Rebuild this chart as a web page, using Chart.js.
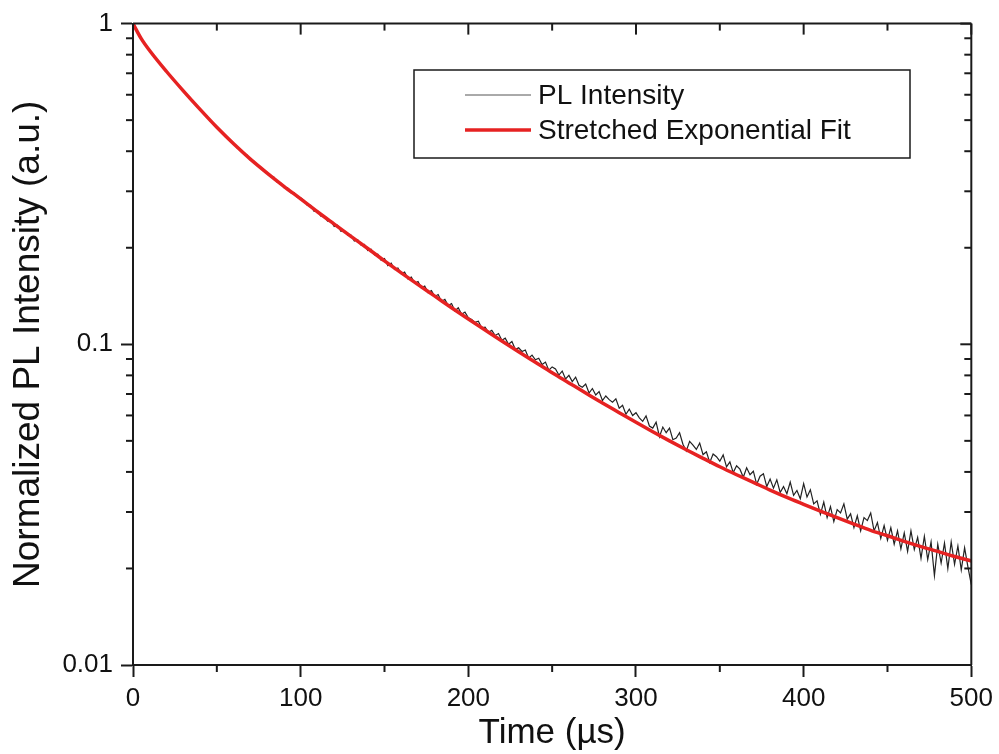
<!DOCTYPE html>
<html>
<head>
<meta charset="utf-8">
<script src="https://cdn.jsdelivr.net/npm/chart.js@4.4.0/dist/chart.umd.min.js"></script>
<style>
  body { margin: 0; background: #fff; }
  #my-chart { display: block; }
</style>
</head>
<body>
<canvas id="my-chart" width="999" height="754"></canvas>
<script>
const seriesNames = ["PL Intensity", "Stretched Exponential Fit"];

// measured decay, one sample every 2 µs starting at 0
const dataStart = 0;
const dataStep = 2;
const plIntensity = [
  1.000, 0.950, 0.917, 0.878, 0.854, 0.820, 0.802, 0.772, 0.755, 0.727,
  0.711, 0.686, 0.673, 0.649, 0.637, 0.614, 0.603, 0.581, 0.571, 0.551,
  0.542, 0.523, 0.515, 0.497, 0.489, 0.472, 0.466, 0.450, 0.444, 0.429,
  0.424, 0.410, 0.406, 0.392, 0.389, 0.375, 0.373, 0.361, 0.358, 0.346,
  0.344, 0.333, 0.332, 0.320, 0.319, 0.308, 0.308, 0.297, 0.297, 0.287,
  0.286,
  0.281, 0.271, 0.271, 0.260, 0.261, 0.251, 0.252, 0.242, 0.243, 0.233,
  0.235, 0.225, 0.226, 0.219, 0.219, 0.210, 0.212, 0.204, 0.205, 0.196,
  0.198, 0.190, 0.191, 0.183, 0.185, 0.176, 0.179, 0.171, 0.173, 0.166,
  0.168, 0.160, 0.162, 0.155, 0.157, 0.150, 0.152, 0.145, 0.147, 0.141,
  0.143, 0.136, 0.138, 0.132, 0.134, 0.127, 0.130, 0.124, 0.126, 0.121,
  0.1195, 0.1170, 0.1180, 0.1125, 0.1130, 0.1090, 0.1105, 0.1065, 0.1080, 0.1030,
  0.1045, 0.1000, 0.1020, 0.0965, 0.0975, 0.0950, 0.0960, 0.0905, 0.0925, 0.0895,
  0.0905, 0.0865, 0.0880, 0.0830, 0.0850, 0.0838, 0.0802, 0.0825, 0.0780, 0.0800,
  0.0765, 0.0790, 0.0745, 0.0735, 0.0752, 0.0705, 0.0728, 0.0695, 0.0712, 0.0668,
  0.0690, 0.0672, 0.0660, 0.0676, 0.0632, 0.0645, 0.0605, 0.0628, 0.0600, 0.0612,
  0.0590, 0.0575, 0.0598, 0.0556, 0.0548, 0.0572, 0.0515, 0.0552, 0.0530, 0.0548,
  0.0504, 0.0510, 0.0530, 0.0488, 0.0465, 0.0498, 0.0485, 0.0470, 0.0492, 0.0453,
  0.0462, 0.0428, 0.0455, 0.0446, 0.0432, 0.0452, 0.0415, 0.0430, 0.0398, 0.0418,
  0.0408, 0.0385, 0.0412, 0.0392, 0.0402, 0.0366, 0.0388, 0.0395, 0.0360, 0.0380,
  0.0356, 0.0378, 0.0345, 0.0360, 0.0342, 0.0372, 0.0338, 0.0350, 0.0330, 0.0368,
  0.0334, 0.0352, 0.0318, 0.0325, 0.0295, 0.0322, 0.0288, 0.0312, 0.0280, 0.0305,
  0.0298, 0.0318, 0.0285, 0.0296, 0.0268, 0.0292, 0.0262, 0.0288, 0.0282, 0.0298,
  0.0262, 0.0278, 0.0248, 0.0272, 0.0245, 0.0268, 0.0238, 0.0262, 0.0230, 0.0258,
  0.0226, 0.0262, 0.0229, 0.0250, 0.0215, 0.0252, 0.0213, 0.0242, 0.0190, 0.0238,
  0.0208, 0.0240, 0.0200, 0.0242, 0.0206, 0.0235, 0.0198, 0.0232, 0.0202, 0.0178
];

// fit curve
const fitTimes = [0, 5, 10, 20, 30, 40, 50, 60, 70, 80, 90, 100,
  110, 120, 130, 140, 150, 160, 170, 180, 190, 200,
  210, 220, 230, 240, 250, 260, 270, 280, 290, 300,
  310, 320, 330, 340, 350, 360, 370, 380, 390, 400,
  410, 420, 430, 440, 450, 460, 470, 480, 490, 500];
const fitValues = [1.000, 0.896, 0.823, 0.709, 0.617, 0.540, 0.475, 0.422, 0.378, 0.342, 0.311, 0.284,
  0.259, 0.237, 0.217, 0.199, 0.182, 0.167, 0.1535, 0.1413, 0.1300, 0.1199,
  0.1108, 0.1024, 0.0948, 0.0879, 0.0815, 0.0758, 0.0705, 0.0656, 0.0612, 0.0571,
  0.0534, 0.0500, 0.0469, 0.0441, 0.0415, 0.0392, 0.0371, 0.0351, 0.0333, 0.0317,
  0.0302, 0.0288, 0.0275, 0.0263, 0.0253, 0.0243, 0.0234, 0.0226, 0.0218, 0.0211];

const xTicks = [0, 100, 200, 300, 400, 500];
const xMinorTicks = [50, 150, 250, 350, 450];
const yTicks = [0.01, 0.1, 1];
const yTickLabels = ["0.01", "0.1", "1"];

const axisColor = "#1a1a1a";
const fontFamily = "'Liberation Sans', Arial, sans-serif";

const plPoints = plIntensity.map((v, i) => ({ x: dataStart + i * dataStep, y: v }));
const fitPoints = fitValues.map((v, i) => ({ x: fitTimes[i], y: v }));

// frame, minor ticks and the boxed legend
const frameTicks = {
  id: "frameTicks",
  afterDraw(chart) {
    const { ctx, chartArea: a, scales: { x, y } } = chart;
    ctx.save();
    ctx.strokeStyle = axisColor;
    ctx.lineWidth = 2;
    const line = (x1, y1, x2, y2) => {
      ctx.beginPath(); ctx.moveTo(x1, y1); ctx.lineTo(x2, y2); ctx.stroke();
    };
    line(a.left, a.top, a.right, a.top);
    line(a.right, a.top, a.right, a.bottom);

    xTicks.forEach(v => {
      const px = x.getPixelForValue(v);
      line(px, a.top, px, a.top + 11);
    });
    xMinorTicks.forEach(v => {
      const px = x.getPixelForValue(v);
      line(px, a.bottom, px, a.bottom + 7);
      line(px, a.top, px, a.top + 7);
    });
    yTicks.forEach(v => {
      const py = y.getPixelForValue(v);
      line(a.right, py, a.right - 11, py);
    });
    [0.01, 0.1].forEach(d => {
      for (let m = 2; m <= 9; m++) {
        const py = y.getPixelForValue(d * m);
        line(a.left, py, a.left - 7, py);
        line(a.right, py, a.right - 7, py);
      }
    });

    // legend box
    ctx.lineWidth = 1.5;
    ctx.strokeRect(414, 70, 496, 88);
    const ds = chart.data.datasets;
    const rows = [95, 130];
    ds.forEach((d, i) => {
      ctx.strokeStyle = i === 0 ? "#555" : d.borderColor;
      ctx.lineWidth = i === 0 ? 1 : d.borderWidth;
      line(465, rows[i], 531, rows[i]);
      ctx.fillStyle = "#111";
      ctx.font = "28px " + fontFamily;
      ctx.textBaseline = "middle";
      ctx.fillText(d.label, 538, rows[i] + 1);
    });
    ctx.restore();
  }
};

const ctx = document.getElementById("my-chart").getContext("2d");
const myChart = new Chart(ctx, {
  type: "line",
  data: {
    datasets: [
      {
        label: seriesNames[0],
        data: plPoints,
        borderColor: "#222",
        borderWidth: 1.2,
        pointRadius: 0,
        order: 1
      },
      {
        label: seriesNames[1],
        data: fitPoints,
        borderColor: "#e62222",
        borderWidth: 3.5,
        pointRadius: 0,
        cubicInterpolationMode: "monotone",
        order: 0
      }
    ]
  },
  options: {
    responsive: false,
    animation: false,
    layout: { padding: { top: 21, right: 26, left: 0, bottom: 0 } },
    plugins: { legend: { display: false }, tooltip: { enabled: false } },
    scales: {
      x: {
        type: "linear",
        min: 0,
        max: 500,
        afterBuildTicks: scale => { scale.ticks = xTicks.map(v => ({ value: v })); },
        afterFit: scale => { scale.height = 89; },
        ticks: {
          color: "#111",
          font: { family: fontFamily, size: 26 },
          padding: 6,
          maxRotation: 0
        },
        grid: {
          drawOnChartArea: false,
          tickLength: 12,
          tickWidth: 2,
          tickColor: axisColor
        },
        border: { display: true, width: 2, color: axisColor },
        title: {
          display: true,
          text: "Time (µs)",
          color: "#111",
          font: { family: fontFamily, size: 35 },
          padding: { top: 0, bottom: 0 }
        }
      },
      y: {
        type: "logarithmic",
        min: 0.01,
        max: 1,
        afterBuildTicks: scale => { scale.ticks = yTicks.map(v => ({ value: v })); },
        afterFit: scale => { scale.width = 133; },
        ticks: {
          color: "#111",
          font: { family: fontFamily, size: 26 },
          padding: 8,
          callback: v => yTickLabels[yTicks.indexOf(v)]
        },
        grid: {
          drawOnChartArea: false,
          tickLength: 12,
          tickWidth: 2,
          tickColor: axisColor
        },
        border: { display: true, width: 2, color: axisColor },
        title: {
          display: true,
          text: "Normalized PL Intensity (a.u.)",
          color: "#111",
          font: { family: fontFamily, size: 37 },
          padding: { top: 7, bottom: 0 }
        }
      }
    }
  },
  plugins: [frameTicks]
});
</script>
</body>
</html>
